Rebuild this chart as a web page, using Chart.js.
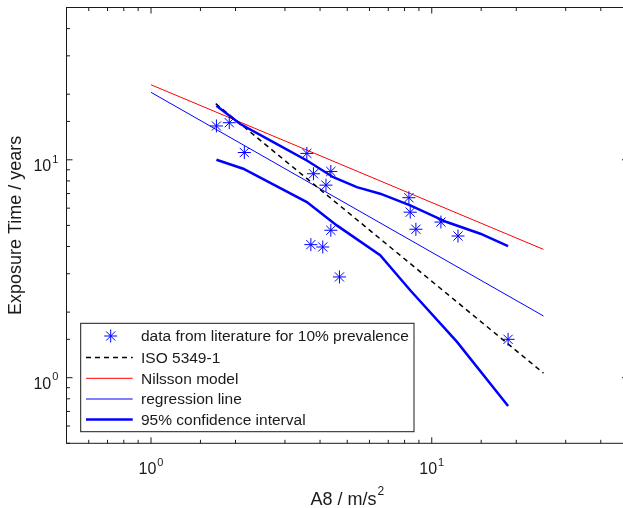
<!DOCTYPE html>
<html>
<head>
<meta charset="utf-8">
<script src="https://cdn.jsdelivr.net/npm/chart.js@4.4.1/dist/chart.umd.min.js"></script>
<style>
  html, body { margin: 0; padding: 0; overflow: hidden; background: #fff; }
  #wrap { position: relative; width: 640px; height: 508px; }
</style>
</head>
<body>
<div id="wrap"><canvas id="chart" width="640" height="508"></canvas></div>
<script>
"use strict";

// data from literature (A8 in m/s^2, exposure time in years)
var dataX = [1.71, 1.90, 2.15, 3.59, 3.79, 4.37, 4.20, 4.37, 3.71, 4.09, 4.69, 8.29, 8.38, 8.78, 10.78, 12.40, 18.70];
var dataY = [14.3, 14.8, 10.8, 10.7, 8.63, 8.84, 7.65, 4.75, 4.08, 3.98, 2.90, 6.70, 5.75, 4.80, 5.18, 4.47, 1.50];

var isoX = [1.7, 25];
var isoY = [18.1, 1.05];
var nilssonX = [1, 25];
var nilssonY = [22.1, 3.88];
var regX = [1, 25];
var regY = [20.4, 1.92];

var ciUpperX = [1.71, 2.08, 2.81, 3.59, 4.46, 5.41, 6.55, 8.38, 11.3, 14.9, 18.7];
var ciUpperY = [17.7, 14.6, 11.8, 9.93, 8.32, 7.49, 6.99, 6.18, 5.18, 4.58, 4.02];
var ciLowerX = [1.71, 2.13, 3.59, 4.59, 6.55, 8.38, 12.3, 18.7];
var ciLowerY = [10.0, 9.10, 6.40, 5.00, 3.65, 2.52, 1.46, 0.742];

var axisMin = 0.5, axisMax = 50;
var tickLabels = { 1: ['10', '0'], 10: ['10', '1'] };
var xTitle = ['A8 / m/s', '2'];
var yTitle = 'Exposure Time / years';

var legendItems = [
    { label: 'data from literature for 10% prevalence', kind: 'marker' },
    { label: 'ISO 5349-1', color: '#000000', width: 1.5, dash: [5, 4] },
    { label: 'Nilsson model', color: '#ff0000', width: 1, dash: [] },
    { label: 'regression line', color: '#0000ff', width: 1, dash: [] },
    { label: '95% confidence interval', color: '#0000ff', width: 2.5, dash: [] }
];

var FONT = "'Liberation Sans', Arial, Helvetica, sans-serif";
var AXIS_COLOR = '#1a1a1a';

function pts(xs, ys) {
    return xs.map(function (x, i) { return { x: x, y: ys[i] }; });
}

function drawStar(ctx, x, y, r) {
    ctx.beginPath();
    ctx.moveTo(x - r, y); ctx.lineTo(x + r, y);
    ctx.moveTo(x, y - r); ctx.lineTo(x, y + r);
    var d = r * 0.7071;
    ctx.moveTo(x - d, y - d); ctx.lineTo(x + d, y + d);
    ctx.moveTo(x - d, y + d); ctx.lineTo(x + d, y - d);
    ctx.stroke();
}

// box, inward ticks, labels, titles and legend, MATLAB style
var matlabAxes = {
    id: 'matlabAxes',
    afterDraw: function (chart) {
        var ctx = chart.ctx;
        var a = chart.chartArea;
        var xs = chart.scales.x, ys = chart.scales.y;
        ctx.save();
        ctx.strokeStyle = AXIS_COLOR;
        ctx.lineWidth = 1;
        ctx.setLineDash([]);
        ctx.strokeRect(a.left, a.top, a.right - a.left, a.bottom - a.top);

        function isMajor(v) { return Math.abs(Math.log10(v) - Math.round(Math.log10(v))) < 1e-9; }

        ctx.beginPath();
        xs.ticks.forEach(function (t) {
            var px = xs.getPixelForValue(t.value);
            var len = isMajor(t.value) ? 6 : 3.5;
            ctx.moveTo(px, a.bottom); ctx.lineTo(px, a.bottom - len);
            ctx.moveTo(px, a.top); ctx.lineTo(px, a.top + len);
        });
        ys.ticks.forEach(function (t) {
            var py = ys.getPixelForValue(t.value);
            var len = isMajor(t.value) ? 6 : 3.5;
            ctx.moveTo(a.left, py); ctx.lineTo(a.left + len, py);
            ctx.moveTo(a.right, py); ctx.lineTo(a.right - len, py);
        });
        ctx.stroke();

        // tick labels with superscripts
        ctx.fillStyle = AXIS_COLOR;
        ctx.textBaseline = 'alphabetic';
        Object.keys(tickLabels).forEach(function (k) {
            var v = Number(k), lab = tickLabels[k];
            ctx.font = '16px ' + FONT;
            var wBase = ctx.measureText(lab[0]).width;
            ctx.font = '11px ' + FONT;
            var wSup = ctx.measureText(lab[1]).width;
            var total = wBase + wSup + 1;

            // x axis
            var px = xs.getPixelForValue(v);
            var x0 = px - total / 2;
            ctx.textAlign = 'left';
            ctx.font = '16px ' + FONT;
            ctx.fillText(lab[0], x0, a.bottom + 31);
            ctx.font = '11px ' + FONT;
            ctx.fillText(lab[1], x0 + wBase + 1, a.bottom + 22.4);

            // y axis
            var py = ys.getPixelForValue(v);
            var xr = 58.3;
            ctx.font = '16px ' + FONT;
            ctx.fillText(lab[0], xr - total, py + 11.2);
            ctx.font = '11px ' + FONT;
            ctx.fillText(lab[1], xr - wSup, py + 2.7);
        });

        // x title
        ctx.font = '18px ' + FONT;
        var wt = ctx.measureText(xTitle[0]).width;
        ctx.font = '12px ' + FONT;
        var ws = ctx.measureText(xTitle[1]).width;
        var cx = (a.left + a.right) / 2;
        var tx = cx - (wt + ws + 1) / 2;
        ctx.font = '18px ' + FONT;
        ctx.fillText(xTitle[0], tx, 505.3);
        ctx.font = '12px ' + FONT;
        ctx.fillText(xTitle[1], tx + wt + 1, 494.7);

        // y title
        ctx.save();
        ctx.translate(20.5, (a.top + a.bottom) / 2);
        ctx.rotate(-Math.PI / 2);
        ctx.textAlign = 'center';
        ctx.font = '18px ' + FONT;
        ctx.fillText(yTitle, 0, 0);
        ctx.restore();

        // legend
        var lx = 80.7, ly = 323.3, lw = 333.3, lh = 108.4;
        ctx.fillStyle = '#ffffff';
        ctx.fillRect(lx, ly, lw, lh);
        ctx.strokeStyle = AXIS_COLOR;
        ctx.lineWidth = 1;
        ctx.strokeRect(lx, ly, lw, lh);
        var rowY = [336, 357.4, 378.3, 399, 419.5];
        ctx.font = '15.5px ' + FONT;
        ctx.textAlign = 'left';
        ctx.textBaseline = 'middle';
        legendItems.forEach(function (it, i) {
            var y = rowY[i];
            if (it.kind === 'marker') {
                ctx.strokeStyle = '#0000ff';
                ctx.lineWidth = 1;
                ctx.setLineDash([]);
                drawStar(ctx, 110.7, y, 6.5);
            } else {
                ctx.strokeStyle = it.color;
                ctx.lineWidth = it.width;
                ctx.setLineDash(it.dash);
                ctx.beginPath();
                ctx.moveTo(86, y); ctx.lineTo(132.7, y);
                ctx.stroke();
            }
            ctx.setLineDash([]);
            ctx.fillStyle = AXIS_COLOR;
            ctx.fillText(it.label, 141, y + 1);
        });
        ctx.restore();
    }
};

var ctx = document.getElementById('chart').getContext('2d');
var myChart = new Chart(ctx, {
    type: 'scatter',
    data: {
        datasets: [{
            label: 'data from literature for 10% prevalence',
            data: pts(dataX, dataY),
            showLine: false,
            pointStyle: 'star',
            pointRadius: 6.5,
            pointBorderColor: '#0000ff',
            pointBackgroundColor: '#0000ff',
            pointBorderWidth: 1
        }, {
            label: '95% confidence interval',
            data: pts(ciUpperX, ciUpperY),
            showLine: true,
            borderColor: '#0000ff',
            borderWidth: 2.5,
            pointRadius: 0
        }, {
            label: '95% confidence interval (lower)',
            data: pts(ciLowerX, ciLowerY),
            showLine: true,
            borderColor: '#0000ff',
            borderWidth: 2.5,
            pointRadius: 0
        }, {
            label: 'ISO 5349-1',
            data: pts(isoX, isoY),
            showLine: true,
            borderColor: '#000000',
            borderWidth: 1.5,
            borderDash: [5, 4],
            pointRadius: 0
        }, {
            label: 'regression line',
            data: pts(regX, regY),
            showLine: true,
            borderColor: '#0000ff',
            borderWidth: 1,
            pointRadius: 0
        }, {
            label: 'Nilsson model',
            data: pts(nilssonX, nilssonY),
            showLine: true,
            borderColor: '#ff0000',
            borderWidth: 1,
            pointRadius: 0
        }]
    },
    options: {
        responsive: false,
        animation: false,
        layout: {
            padding: { left: 66.5, top: 6.6, right: 12, bottom: 64.7 }
        },
        scales: {
            x: {
                type: 'logarithmic',
                display: false,
                min: axisMin,
                max: axisMax
            },
            y: {
                type: 'logarithmic',
                display: false,
                min: axisMin,
                max: axisMax
            }
        },
        plugins: {
            legend: { display: false },
            tooltip: { enabled: false }
        }
    },
    plugins: [matlabAxes]
});
</script>
</body>
</html>
